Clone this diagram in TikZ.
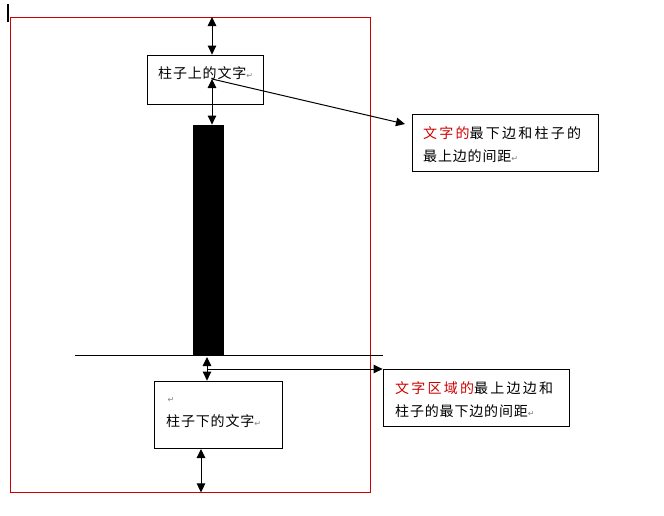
\documentclass[tikz,border=0pt]{standalone}
\usepackage{fontspec}
\usetikzlibrary{arrows.meta}
\newfontfamily\cjkA[LetterSpace=6]{Noto Sans CJK SC}
\newfontfamily\cjkB[LetterSpace=16]{Noto Sans CJK SC}
\newfontfamily\symf{DejaVu Sans}
\definecolor{wordred}{RGB}{204,0,0}
\newcommand\retmark{{\symf\fontsize{8}{8}\selectfont\color{gray}↵}}
\begin{document}
\begin{tikzpicture}[x=1pt,y=-1pt,
  box/.style={draw, line width=0.8pt, inner sep=0pt},
  txt/.style={anchor=west, inner sep=0pt, font=\cjkA\fontsize{14}{14}\selectfont},
  txtj/.style={anchor=west, inner sep=0pt, font=\cjkB\fontsize{14}{14}\selectfont},
  dbl/.style={{Triangle[length=9pt,width=8.5pt]}-{Triangle[length=9pt,width=8.5pt]}, line width=1pt},
  one/.style={-{Triangle[length=9pt,width=8.5pt]}, line width=1pt}]
\useasboundingbox (0,0) rectangle (664,515);
% frame
\node[box, draw=wordred, minimum width=360pt, minimum height=475pt] (frame) at (190,254.5) {};
% cursor mark
\fill (7,4) rectangle (9,22);
% boxes
\node[box, minimum width=116pt, minimum height=49pt] (box1) at (205,79.5) {};
\node[box, fill=black, minimum width=30pt, minimum height=230pt] (pillar) at (208,240) {};
\node[box, minimum width=186pt, minimum height=57pt] (box2) at (505,142.5) {};
\node[box, minimum width=186pt, minimum height=57pt] (box3) at (476,397.5) {};
\node[box, minimum width=128pt, minimum height=67pt] (box4) at (218,414.5) {};
% texts
\node[txt] (t1) at (158,73) {柱子上的文字\retmark};
\node[txtj] (t2a) at (423,133) {{\color{wordred}文字的}最下边和柱子的};
\node[txt] (t2b) at (423,156) {最上边的间距\retmark};
\node[txtj] (t3a) at (395,388) {{\color{wordred}文字区域的}最上边边和};
\node[txt] (t3b) at (395,411) {柱子的最下边的间距\retmark};
\node[inner sep=0pt] (t4r) at (171,400) {\retmark};
\node[txt] (t4) at (166,421) {柱子下的文字\retmark};
% ground line
\coordinate (g1) at (75,355);
\coordinate (g2) at (383,355);
\draw[line width=1pt] (g1) -- (g2);
% arrows
\coordinate (ftop) at (212,17);
\draw[dbl] (ftop) -- (ftop |- box1.north);
\coordinate (c1) at (212,79);
\draw[dbl] (c1) -- (c1 |- pillar.north);
\coordinate (a2) at (405,124);
\draw[one] (c1) -- (a2);
\coordinate (b1) at (207,357);
\draw[dbl] (b1) -- (b1 |- box4.north);
\coordinate (b2) at (207,369);
\draw[one] (b2) -- (b2 -| box3.west);
\coordinate (b3) at (201,449);
\draw[dbl] (b3) -- (b3 |- frame.south);
\end{tikzpicture}
\end{document}
